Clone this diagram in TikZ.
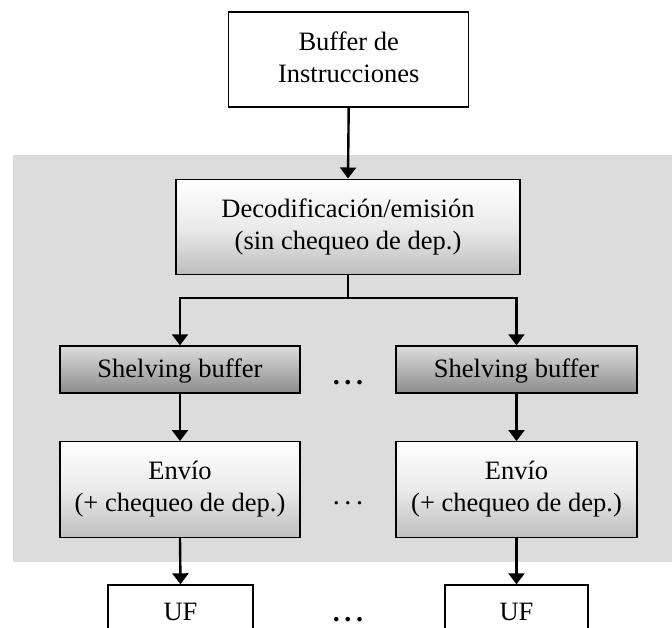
\documentclass[tikz,border=0pt]{standalone}
\usepackage{fontspec}
\setmainfont{Liberation Serif}
\usetikzlibrary{arrows.meta}
\definecolor{panelgray}{HTML}{DCDCDC}
\definecolor{lightbot}{HTML}{BEBEBE}
\definecolor{shelftop}{HTML}{DCDCDC}
\definecolor{shelfbot}{HTML}{8C8C8C}
\tikzset{
  box/.style={draw=black, line width=1.4pt, align=center, inner sep=0pt,
    font=\fontsize{26.5}{32}\selectfont},
  plainbox/.style={box, fill=white},
  lightbox/.style={box, top color=white, bottom color=lightbot, middle color=white!92!black},
  shelfbox/.style={box, top color=shelftop, bottom color=shelfbot},
  flow/.style={line width=2.4pt, -{Triangle[length=11pt,width=16pt]}},
  dots/.style={anchor=base, inner sep=0pt, font=\fontsize{28}{32}\selectfont}
}
\begin{document}
\begin{tikzpicture}[x=1pt,y=-1pt]
  \useasboundingbox (0,0) rectangle (672,627);
  \clip (0,0) rectangle (672,627);
  % shaded panel behind the issue logic
  \fill[panelgray] (13,155) rectangle (672,562);

  % boxes
  \node[plainbox, minimum width=240, minimum height=95] (ib) at (348.7,59.5)
    {Buffer de\\Instrucciones\rule[-4pt]{0pt}{1pt}};
  \node[lightbox, minimum width=344, minimum height=95] (dec) at (348,226.7)
    {Decodificación/emisión\\(sin chequeo de dep.)\rule[-4pt]{0pt}{1pt}};

  \node[shelfbox, minimum width=240, minimum height=47] (sb1) at (180,369.5)
    {\rule{0pt}{22pt}Shelving buffer};
  \node[shelfbox, minimum width=241, minimum height=47] (sb2) at (516.5,369.5)
    {\rule{0pt}{22pt}Shelving buffer};

  \node[lightbox, minimum width=240, minimum height=95.5] (env1) at (180,489.5)
    {Envío\\(+ chequeo de dep.)};
  \node[lightbox, minimum width=241, minimum height=95.5] (env2) at (516.5,489.5)
    {Envío\\(+ chequeo de dep.)};

  \node[plainbox, minimum width=145, minimum height=54] (uf1) at (180.5,612) {UF};
  \node[plainbox, minimum width=143, minimum height=54] (uf2) at (516.5,612) {UF};

  % ellipses between the two columns
  \node[dots] (d1) at (348,384) {\textbf{.\,.\,.}};
  \node[dots] (d2) at (348,504) {.\,.\,.};
  \node[dots] (d3) at (348,621) {\textbf{.\,.\,.}};

  % connectors
  \coordinate (fork) at (348,298);
  \draw[flow] (ib.south) -- (dec.north);
  \draw[line width=1.6pt] (dec.south) -- (fork);
  \draw[flow] (fork) -| (sb1.north);
  \draw[flow] (fork) -| (sb2.north);
  \draw[flow] (sb1.south) -- (env1.north);
  \draw[flow] (sb2.south) -- (env2.north);
  \draw[flow] (env1.south) -- (uf1.north);
  \draw[flow] (env2.south) -- (uf2.north);
\end{tikzpicture}
\end{document}
